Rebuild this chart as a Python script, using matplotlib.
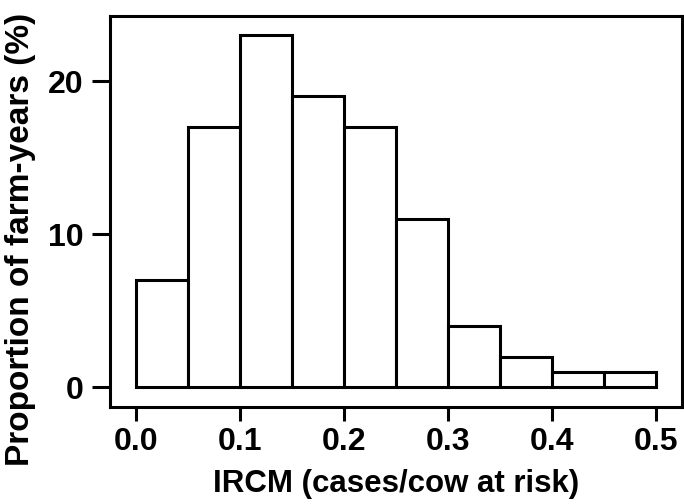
import matplotlib
matplotlib.use('Agg')
import matplotlib.pyplot as plt
import numpy as np

# bin edges and proportions (%)
bin_edges = [0.0, 0.05, 0.10, 0.15, 0.20, 0.25, 0.30, 0.35, 0.40, 0.45, 0.50]
proportions = [7, 17, 23, 19, 17, 11, 4, 2, 1, 1]
x_ticks = [0.0, 0.1, 0.2, 0.3, 0.4, 0.5]
x_tick_labels = ['0.0', '0.1', '0.2', '0.3', '0.4', '0.5']
y_ticks = [0, 10, 20]

plt.rcParams['font.family'] = ['Liberation Sans', 'DejaVu Sans']
plt.rcParams['font.weight'] = 'bold'

fig = plt.figure(figsize=(6.84, 5.04), dpi=100)
ax = fig.add_axes([0.161, 0.192, 0.836, 0.776])

lefts = np.array(bin_edges[:-1])
widths = np.diff(bin_edges)
ax.bar(lefts, proportions, width=widths, align='edge', facecolor='white',
       edgecolor='black', linewidth=2.2)

ax.set_xlim(-0.025, 0.525)
ax.set_ylim(-1.3, 24.25)
ax.set_xticks(x_ticks)
ax.set_xticklabels(x_tick_labels)
ax.set_yticks(y_ticks)

for s in ax.spines.values():
    s.set_linewidth(2.2)
ax.tick_params(axis='x', direction='out', length=10, width=2.2, labelsize=23, pad=4)
ax.tick_params(axis='y', direction='out', length=13, width=2.2, labelsize=23, pad=6)
for lab in ax.get_xticklabels() + ax.get_yticklabels():
    lab.set_fontweight('bold')

ax.set_xlabel('IRCM (cases/cow at risk)', fontsize=22.5, fontweight='bold', labelpad=9)
ax.set_ylabel('Proportion of farm-years (%)', fontsize=24, fontweight='bold')
ax.yaxis.set_label_coords(-0.13, 0.43)

fig.savefig('out.png', dpi=100)
